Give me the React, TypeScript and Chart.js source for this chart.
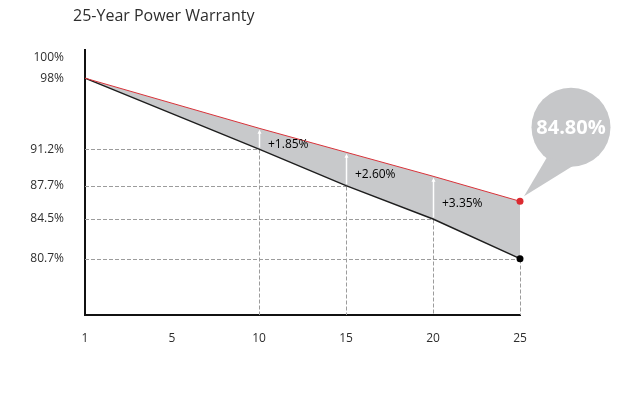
import React, { useEffect, useRef } from "react";
import { Chart, registerables } from "chart.js";

Chart.register(...registerables);

const chartTitle = "25-Year Power Warranty";
const years = ["1", "5", "10", "15", "20", "25"];
const warrantyUpper = [98, 95.6, 93.2, 90.9, 88.6, 86.2];
const standardLower = [98, 94.6, 91.2, 87.7, 84.5, 80.7];
const yTickValues = [100, 98, 91.2, 87.7, 84.5, 80.7];
const gainYears = ["10", "15", "20"];
const gainLabels = ["+1.85%", "+2.60%", "+3.35%"];
const dropLineYears = ["10", "15", "20", "25"];
const endLabel = "84.80%";

const FONT = "'Open Sans', 'Noto Sans', sans-serif";

const overlayPlugin = {
  id: "overlay",
  beforeDatasetsDraw(chart: any) {
    const { ctx, scales, chartArea } = chart;
    const x = scales.x;
    const y = scales.y;
    ctx.save();
    ctx.strokeStyle = "#9c9c9c";
    ctx.lineWidth = 1;
    ctx.setLineDash([4, 2]);
    dropLineYears.forEach((yr) => {
      const i = years.indexOf(yr);
      const px = Math.round(x.getPixelForValue(i)) + 0.5;
      const py = Math.round(y.getPixelForValue(standardLower[i])) + 0.5;
      ctx.beginPath();
      ctx.moveTo(chartArea.left, py);
      ctx.lineTo(px, py);
      ctx.moveTo(px, py);
      ctx.lineTo(px, chartArea.bottom);
      ctx.stroke();
    });
    ctx.restore();
  },
  afterDatasetsDraw(chart: any) {
    const { ctx, scales } = chart;
    const x = scales.x;
    const y = scales.y;
    ctx.save();
    gainYears.forEach((yr, k) => {
      const i = years.indexOf(yr);
      const px = Math.round(x.getPixelForValue(i)) + 0.5;
      const yR = y.getPixelForValue(warrantyUpper[i]);
      const yB = y.getPixelForValue(standardLower[i]);
      ctx.strokeStyle = "#ffffff";
      ctx.fillStyle = "#ffffff";
      ctx.lineWidth = 1.5;
      ctx.beginPath();
      ctx.moveTo(px, yB - 1.5);
      ctx.lineTo(px, yR + 4);
      ctx.stroke();
      ctx.beginPath();
      ctx.moveTo(px, yR + 1.5);
      ctx.lineTo(px - 2, yR + 5.5);
      ctx.lineTo(px + 2, yR + 5.5);
      ctx.closePath();
      ctx.fill();
      ctx.fillStyle = "#000000";
      ctx.font = `500 12px ${FONT}`;
      ctx.textAlign = "left";
      ctx.textBaseline = "middle";
      ctx.fillText(gainLabels[k], px + 8.5, (yR + yB) / 2 + 6);
    });
    ctx.restore();
  },
  afterDraw(chart: any) {
    const { ctx } = chart;
    ctx.save();
    ctx.fillStyle = "#2e2e2e";
    ctx.font = `16px ${FONT}`;
    ctx.textAlign = "left";
    ctx.textBaseline = "alphabetic";
    ctx.fillText(chartTitle, 65, 13);
    const pt = chart.getDatasetMeta(0).data[years.length - 1];
    const rx = pt.x;
    const ry = pt.y;
    const cx = rx + 51;
    const cy = ry - 74;
    const r = 39.5;
    ctx.fillStyle = "#c6c7c9";
    ctx.beginPath();
    ctx.arc(cx, cy, r, 0, Math.PI * 2);
    ctx.fill();
    ctx.beginPath();
    ctx.moveTo(cx - 24, cy + 30);
    ctx.lineTo(cx + 3, cy + 38);
    ctx.lineTo(rx + 4, ry - 5);
    ctx.closePath();
    ctx.fill();
    ctx.fillStyle = "#ffffff";
    ctx.font = `bold 20px ${FONT}`;
    ctx.textAlign = "center";
    ctx.textBaseline = "middle";
    ctx.fillText(endLabel, cx, cy + 1);
    ctx.restore();
  },
};

export default function App() {
  const ref = useRef<HTMLCanvasElement | null>(null);
  useEffect(() => {
    if (!ref.current) return;
    Chart.defaults.font.family = FONT;
    const chart = new Chart(ref.current, {
      type: "line",
      data: {
        labels: years,
        datasets: [
          {
            label: "Warranty",
            data: warrantyUpper,
            borderColor: "#d8333a",
            borderWidth: 1,
            backgroundColor: "#c8c9cb",
            fill: "+1",
            tension: 0,
            pointRadius: years.map((_, i) => (i === years.length - 1 ? 3.5 : 0)),
            pointBackgroundColor: "#dc2a30",
            pointBorderWidth: 0,
          },
          {
            label: "Standard",
            data: standardLower,
            borderColor: "#1e1e1e",
            borderWidth: 1.5,
            fill: false,
            tension: 0,
            pointRadius: years.map((_, i) => (i === years.length - 1 ? 3.5 : 0)),
            pointBackgroundColor: "#000000",
            pointBorderWidth: 0,
          },
        ],
      },
      options: {
        animation: false,
        responsive: true,
        maintainAspectRatio: false,
        layout: { padding: { top: 42, right: 114, bottom: 46, left: 0 } },
        plugins: {
          legend: { display: false },
          tooltip: { enabled: false },
          title: { display: false },
          filler: { drawTime: "beforeDatasetsDraw" },
        },
        scales: {
          x: {
            type: "category",
            offset: false,
            grid: { display: false },
            border: { display: true, color: "#111111", width: 2 },
            ticks: {
              color: "#2e2e2e",
              font: { size: 12 },
              padding: 8,
              maxRotation: 0,
              autoSkip: false,
            },
            afterFit: (s: any) => {
              s.height = 30;
            },
          },
          y: {
            type: "linear",
            min: 75.3,
            max: 100.7,
            grid: { display: false },
            border: { display: true, color: "#111111", width: 2 },
            afterBuildTicks: (s: any) => {
              s.ticks = yTickValues.map((v) => ({ value: v }));
            },
            ticks: {
              color: "#2e2e2e",
              font: { size: 12 },
              padding: 13,
              autoSkip: false,
              callback: (v: any) => `${v}%`,
            },
            afterFit: (s: any) => {
              s.width = 77;
            },
          },
        },
      },
      plugins: [overlayPlugin],
    } as any);
    return () => chart.destroy();
  }, []);
  return (
    <div style={{ position: "relative", width: 626, height: 383 }}>
      <canvas ref={ref} />
    </div>
  );
}
